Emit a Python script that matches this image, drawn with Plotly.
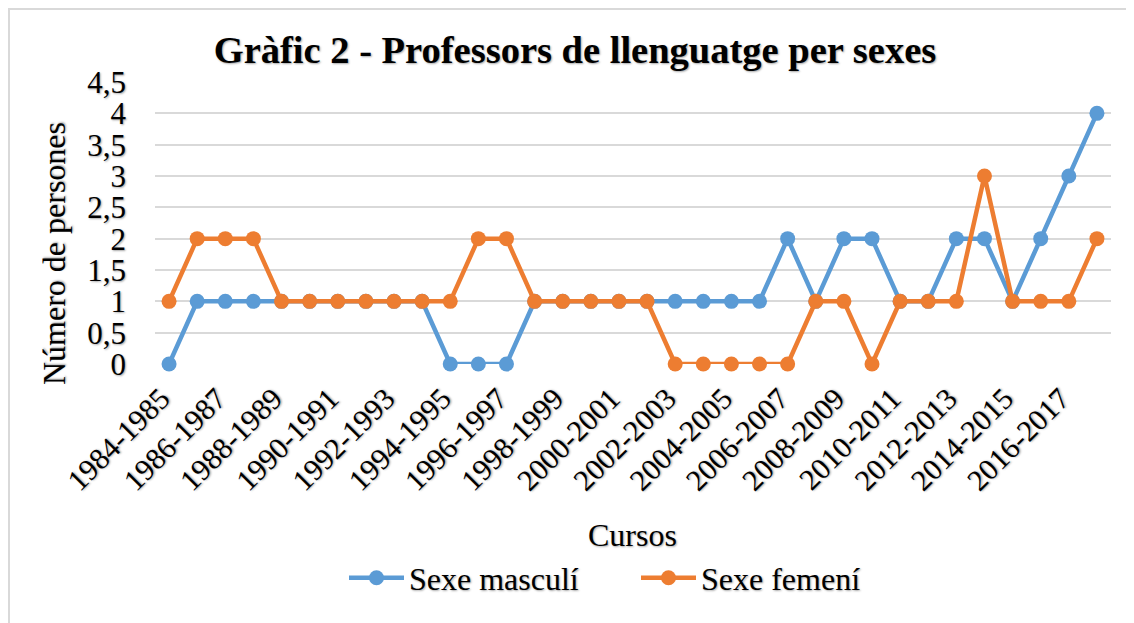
import plotly.graph_objects as go

cursos = [f"{y}-{y+1}" for y in range(1984, 2018)]
masculi = [0, 1, 1, 1, 1, 1, 1, 1, 1, 1, 0, 0, 0, 1, 1, 1, 1, 1, 1, 1, 1, 1,
           2, 1, 2, 2, 1, 1, 2, 2, 1, 2, 3, 4]
femeni = [1, 2, 2, 2, 1, 1, 1, 1, 1, 1, 1, 2, 2, 1, 1, 1, 1, 1, 0, 0, 0, 0,
          0, 1, 1, 0, 1, 1, 1, 3, 1, 1, 1, 2]
tick_labels = cursos[::2]

OFF = 8  # page body margin
W, H = 1134 - OFF, 623 - OFF
# target screen pixels of the plot area
L_S, R_S, T_S, B_S = 155, 1111, 82, 364
ML, MT = L_S - OFF, T_S - OFF
MR, MB = W - (R_S - OFF), H - (B_S - OFF)
PW, PH = W - ML - MR, H - MT - MB

FONT = "Liberation Serif"
SHADOW = "1px 1px 2px rgba(0,0,0,0.35)"
FS = 32

def sx(px):
    return (px - OFF - ML) / PW

def sy(py):
    return (H - MB - (py - OFF)) / PH

fig = go.Figure()
fig.add_trace(go.Scatter(
    x=cursos, y=masculi, name="Sexe masculí", mode="lines+markers",
    line=dict(color="#5B9BD5", width=4.5),
    marker=dict(size=15, color="#5B9BD5"), cliponaxis=False))
fig.add_trace(go.Scatter(
    x=cursos, y=femeni, name="Sexe femení", mode="lines+markers",
    line=dict(color="#ED7D31", width=4.5),
    marker=dict(size=15, color="#ED7D31"), cliponaxis=False))

fig.update_layout(
    width=W, height=H,
    margin=dict(l=ML, r=MR, t=MT, b=MB),
    paper_bgcolor="white", plot_bgcolor="white",
    separators=", ",
    font=dict(family=FONT, size=FS, color="black", shadow=SHADOW),
    title=dict(text="<b>Gràfic 2 - Professors de llenguatge per sexes</b>",
               x=sx(575), xref="paper", xanchor="center",
               y=1 - (50 - OFF) / H, yanchor="middle",
               font=dict(family=FONT, size=38.5, color="black", shadow=SHADOW)),
    showlegend=True,
    legend=dict(orientation="h", x=sx(344), xanchor="left",
                y=sy(578), yanchor="middle",
                font=dict(family=FONT, size=FS, color="black", shadow=SHADOW),
                itemwidth=55, entrywidth=222, entrywidthmode="pixels",
                tracegroupgap=0, bgcolor="rgba(0,0,0,0)"),
    xaxis=dict(type="category", range=[-0.5, len(cursos) - 0.5],
               tickmode="array", tickvals=tick_labels, ticktext=tick_labels,
               tickangle=-45, showgrid=False, showline=False, ticks="",
               ticklabelstandoff=10, ticklabelshift=-8,
               tickfont=dict(family=FONT, size=30, shadow=SHADOW),
               automargin=False),
    yaxis=dict(range=[0, 4.5], dtick=0.5, tick0=0, showgrid=True,
               gridcolor="#D9D9D9", gridwidth=1.5, zeroline=False,
               showline=False, ticks="", ticklabelstandoff=28,
               tickfont=dict(family=FONT, size=31, shadow=SHADOW),
               automargin=False),
    annotations=[
        dict(text="Cursos", xref="paper", yref="paper",
             x=sx(632), y=sy(535), xanchor="center", yanchor="middle",
             showarrow=False,
             font=dict(family=FONT, size=FS, color="black", shadow=SHADOW)),
        dict(text="Número de persones", xref="paper", yref="paper",
             x=sx(54), y=sy(254), xanchor="center", yanchor="middle",
             textangle=-90, showarrow=False,
             font=dict(family=FONT, size=FS, color="black", shadow=SHADOW)),
    ],
)

fig.add_shape(type="rect", xref="paper", yref="paper",
              x0=sx(9), x1=sx(1134 + 20), y0=sy(623 + 20), y1=sy(9),
              line=dict(color="#D9D9D9", width=2), fillcolor="rgba(0,0,0,0)",
              layer="below")

fig.write_html("out.html")
